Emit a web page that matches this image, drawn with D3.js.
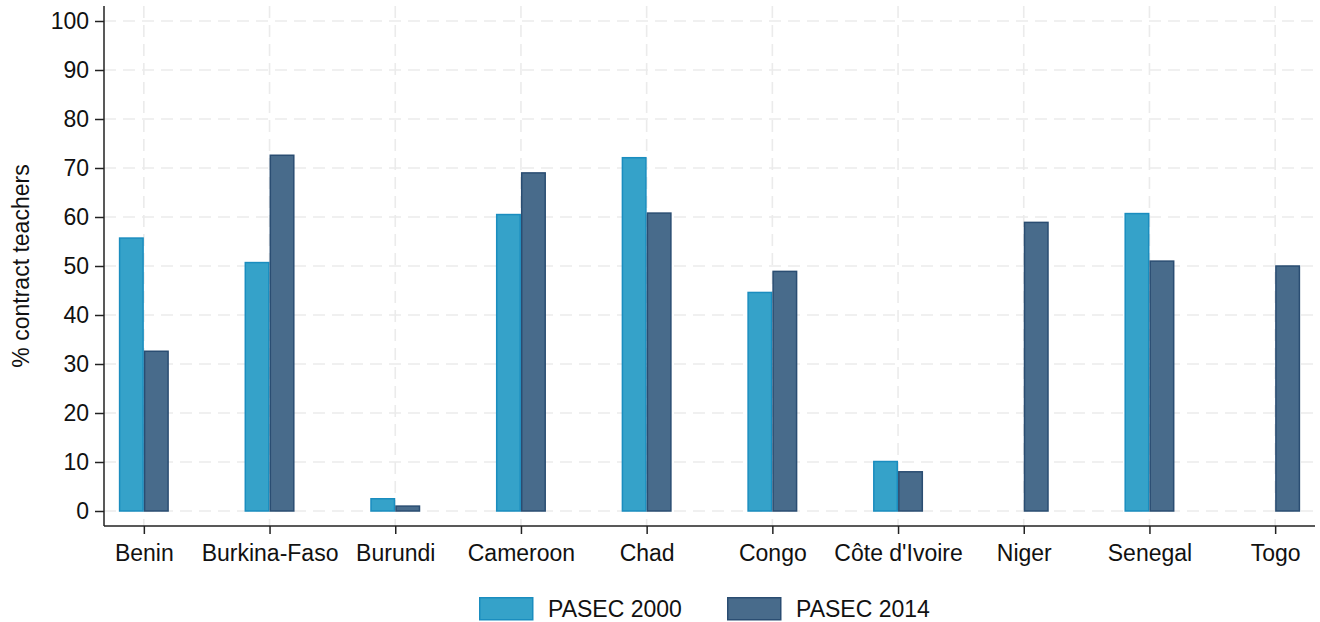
<!DOCTYPE html>
<html>
<head>
<meta charset="utf-8">
<script src="https://cdn.jsdelivr.net/npm/d3@7"></script>
<style>
  html, body { margin: 0; padding: 0; background: #fff; }
  svg { display: block; font-family: "Liberation Sans", Arial, sans-serif; }
</style>
</head>
<body>
<svg id="chart" width="1320" height="622"></svg>
<script>
const categories = ["Benin", "Burkina-Faso", "Burundi", "Cameroon", "Chad", "Congo", "Côte d'Ivoire", "Niger", "Senegal", "Togo"];
const pasec2000 = [55.7, 50.7, 2.5, 60.5, 72.1, 44.6, 10.1, null, 60.7, null];
const pasec2014 = [32.6, 72.6, 1.0, 69.0, 60.8, 48.9, 8.0, 58.9, 51.0, 50.0];
const seriesNames = ["PASEC 2000", "PASEC 2014"];
const yTicks = [0, 10, 20, 30, 40, 50, 60, 70, 80, 90, 100];
const yLabel = "% contract teachers";

const fills = ["#35a2c9", "#486b8b"];
const strokes = ["#1a8dbf", "#2a4d72"];
const FS = 23;

const svg = d3.select("#chart");
const pLeft = 104, pRight = 1315, pTop = 6, pBottom = 526;

const x = d3.scalePoint().domain(categories).range([pLeft, pRight]).padding(0.317);
const y = d3.scaleLinear().domain([0, 100]).range([511, 21]);
const sub = d3.scaleBand().domain([0, 1]).range([-25, 25]);

// grid
const grid = svg.append("g").attr("stroke", "#ebebeb").attr("stroke-width", 1.6).attr("stroke-dasharray", "12,7");
grid.selectAll("line.h").data(yTicks).join("line")
  .attr("x1", pLeft).attr("x2", pRight)
  .attr("y1", d => y(d)).attr("y2", d => y(d));
grid.selectAll("line.v").data(categories).join("line")
  .attr("x1", d => x(d)).attr("x2", d => x(d))
  .attr("y1", pTop).attr("y2", pBottom);

// bars
const rows = [];
categories.forEach((c, i) => {
  [pasec2000[i], pasec2014[i]].forEach((v, s) => {
    if (v != null) rows.push({ c, s, v });
  });
});
svg.append("g").selectAll("rect").data(rows).join("rect")
  .attr("x", d => x(d.c) + sub(d.s) + 0.75)
  .attr("width", sub.bandwidth() - 1.5)
  .attr("y", d => y(d.v))
  .attr("height", d => y(0) - y(d.v))
  .attr("fill", d => fills[d.s])
  .attr("stroke", d => strokes[d.s])
  .attr("stroke-width", 1.5);

// axes
const yAxis = d3.axisLeft(y).tickValues(yTicks).tickSize(9).tickPadding(6);
const gy = svg.append("g").attr("transform", `translate(${pLeft},0)`).call(yAxis);
gy.select(".domain").attr("d", `M0,${pTop}V${pBottom}`).attr("stroke", "#222").attr("stroke-width", 1.5);
gy.selectAll(".tick line").attr("stroke", "#222").attr("stroke-width", 1.5);
gy.selectAll(".tick text").attr("font-size", FS).attr("fill", "#111").attr("font-family", "Liberation Sans, Arial, sans-serif");

const xAxis = d3.axisBottom(x).tickSize(8).tickPadding(11);
const gx = svg.append("g").attr("transform", `translate(0,${pBottom})`).call(xAxis);
gx.select(".domain").attr("d", `M${pLeft},0H${pRight}`).attr("stroke", "#222").attr("stroke-width", 1.5);
gx.selectAll(".tick line").attr("stroke", "#222").attr("stroke-width", 1.5);
gx.selectAll(".tick text").attr("font-size", FS).attr("fill", "#111").attr("font-family", "Liberation Sans, Arial, sans-serif");

// y label
svg.append("text")
  .attr("transform", `translate(29,${(y(0) + y(100)) / 2}) rotate(-90)`)
  .attr("text-anchor", "middle")
  .attr("font-size", FS).attr("fill", "#111")
  .text(yLabel);

// legend
const legendX = [479, 727];
const lg = svg.append("g").selectAll("g").data(seriesNames).join("g")
  .attr("transform", (d, i) => `translate(${legendX[i]},597)`);
lg.append("rect").attr("x", 0.75).attr("y", 0.75).attr("width", 53).attr("height", 22)
  .attr("fill", (d, i) => fills[i]).attr("stroke", (d, i) => strokes[i]).attr("stroke-width", 1.5);
lg.append("text").attr("x", 69).attr("y", 20).attr("font-size", FS).attr("fill", "#111").text(d => d);
</script>
</body>
</html>
